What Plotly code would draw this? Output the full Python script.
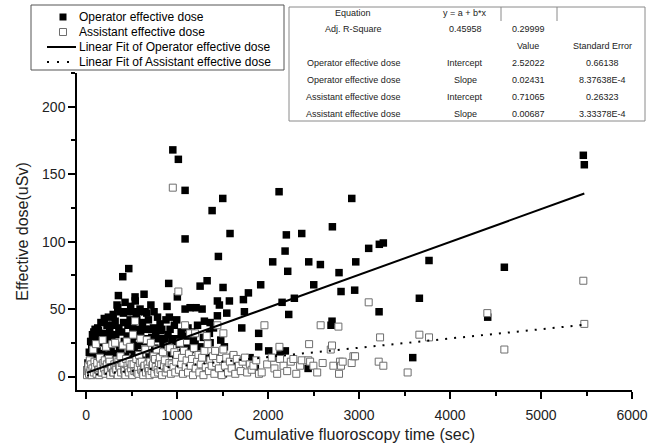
import plotly.graph_objects as go

# ---------------- data ----------------
op_x = [12, 20, 28, 35, 42, 50, 55, 62, 70, 78, 85, 92, 99, 105, 112, 120, 128, 135, 142, 150,
        156, 163, 170, 178, 186, 192, 200, 208, 215, 222, 230, 238, 245, 252, 260, 268, 275, 282, 290, 298,
        305, 312, 319, 326, 333, 340, 348, 355, 360, 368, 374, 382, 390, 398, 403, 410, 412, 420, 428, 436,
        447, 452, 460, 469, 475, 484, 490, 498, 506, 514, 520, 528, 538, 540, 545, 552, 557, 565, 575, 580,
        588, 593, 600, 610, 620, 630, 637, 645, 648, 655, 667, 672, 685, 692, 703, 712, 722, 730, 740, 747,
        755, 765, 777, 785, 795, 805, 813, 820, 832, 845, 855, 868, 878, 887, 890, 900, 908, 915, 923, 935,
        945, 953, 959, 970, 985, 996, 1003, 1014, 1025, 1033, 1045, 1060, 1070, 1088, 1088, 1088, 1100, 1107, 1120, 1130,
        1143, 1143, 1160, 1179, 1180, 1198, 1209, 1225, 1240, 1253, 1253, 1275, 1289, 1300, 1326, 1330, 1355, 1363, 1363, 1385,
        1400, 1420, 1443, 1443, 1454, 1465, 1480, 1502, 1505, 1509, 1520, 1546, 1575, 1582, 1601, 1619, 1650, 1711, 1729, 1740,
        1784, 1802, 1860, 1897, 1897, 1919, 2007, 2051, 2077, 2121, 2132, 2154, 2187, 2190, 2201, 2216, 2227, 2289, 2370, 2440,
        2447, 2502, 2575, 2692, 2703, 2707, 2780, 2802, 2920, 2952, 2964, 3106, 3220, 3223, 3267, 3590, 3663, 3769, 4414, 4597,
        5465, 5476]
op_y = [5, 10, 4, 18, 12, 26, 8, 21, 31, 15, 33, 24, 35, 11, 28, 19, 36, 34, 25, 14,
        29, 40, 17, 32, 13, 27, 43, 9, 22, 30, 38, 16, 44, 27, 33, 12, 21, 29, 38, 46,
        25, 17, 41, 31, 12, 53, 51, 60, 36, 22, 48, 18, 33, 10, 74, 47, 40, 26, 55, 15,
        48, 30, 38, 80, 20, 42, 52, 13, 27, 36, 48, 18, 59, 56, 30, 45, 42, 23, 48, 35,
        17, 50, 31, 12, 40, 26, 61, 20, 48, 35, 47, 28, 42, 16, 35, 53, 29, 13, 36, 48,
        21, 31, 19, 44, 28, 15, 39, 34, 35, 24, 10, 28, 42, 21, 52, 31, 69, 44, 35, 17,
        26, 168, 28, 38, 12, 42, 59, 161, 24, 28, 33, 18, 14, 138, 102, 50, 30, 21, 36, 11,
        51, 20, 33, 27, 22, 24, 51, 38, 16, 67, 22, 50, 29, 41, 14, 71, 32, 40, 25, 123,
        36, 18, 56, 45, 89, 53, 27, 132, 66, 2, 22, 47, 56, 106, 14, 15, 9, 36, 57, 48,
        62, 14, 6, 32, 22, 68, 19, 85, 14, 137, 16, 55, 93, 19, 105, 78, 46, 58, 106, 6,
        85, 68, 83, 38, 41, 111, 77, 63, 132, 64, 85, 95, 48, 98, 99, 14, 58, 86, 44, 81,
        164, 157]

as_x = [10, 18, 25, 32, 40, 48, 55, 62, 70, 78, 85, 92, 100, 108, 115, 122, 130, 138, 145, 152,
        160, 168, 175, 182, 190, 198, 205, 212, 220, 228, 235, 242, 250, 258, 265, 272, 280, 288, 295, 302,
        310, 319, 325, 332, 340, 348, 355, 362, 370, 378, 385, 392, 403, 410, 418, 425, 432, 440, 448, 455,
        462, 470, 478, 485, 492, 500, 508, 515, 522, 530, 538, 545, 552, 560, 568, 575, 582, 590, 598, 605,
        612, 620, 628, 635, 642, 650, 658, 667, 675, 682, 690, 698, 705, 712, 720, 728, 735, 742, 750, 758,
        765, 777, 785, 792, 800, 810, 818, 825, 835, 845, 855, 865, 875, 885, 895, 905, 915, 923, 932, 940,
        953, 960, 970, 980, 990, 1000, 1014, 1020, 1033, 1045, 1055, 1065, 1075, 1088, 1095, 1105, 1120, 1130, 1143, 1150,
        1165, 1175, 1185, 1198, 1205, 1220, 1235, 1245, 1260, 1275, 1290, 1300, 1315, 1326, 1337, 1350, 1365, 1380, 1395, 1410,
        1418, 1430, 1443, 1460, 1475, 1490, 1509, 1509, 1525, 1540, 1560, 1580, 1600, 1620, 1640, 1656, 1680, 1700, 1720, 1747,
        1770, 1800, 1820, 1839, 1870, 1900, 1930, 1960, 1990, 2040, 2070, 2100, 2125, 2132, 2170, 2210, 2250, 2278, 2310, 2352,
        2370, 2443, 2451, 2462, 2498, 2540, 2578, 2600, 2689, 2703, 2718, 2773, 2780, 2791, 2802, 2820, 2919, 2938, 2956, 3106,
        3216, 3231, 3267, 3534, 3663, 3769, 4410, 4597, 5465, 5476]
as_y = [1, 4, 8, 2, 12, 5, 9, 1, 6, 20, 3, 11, 7, 24, 2, 10, 5, 5, 1, 14,
        8, 3, 3, 27, 10, 6, 12, 2, 22, 9, 4, 4, 13, 11, 1, 7, 7, 24, 3, 3,
        9, 25, 6, 5, 12, 1, 11, 8, 7, 15, 3, 10, 23, 10, 5, 4, 1, 13, 26, 8,
        5, 3, 11, 22, 6, 9, 1, 31, 9, 4, 41, 4, 13, 3, 7, 2, 16, 10, 28, 5,
        11, 3, 1, 7, 8, 20, 3, 27, 9, 6, 4, 1, 11, 25, 4, 8, 9, 15, 2, 13,
        7, 20, 5, 3, 10, 14, 5, 9, 1, 18, 8, 12, 3, 6, 6, 22, 10, 21, 2, 9,
        140, 7, 18, 3, 11, 16, 63, 5, 25, 9, 14, 2, 19, 38, 7, 12, 3, 17, 32, 8,
        13, 1, 21, 32, 6, 11, 16, 3, 9, 14, 1, 19, 7, 30, 24, 4, 12, 8, 15, 2,
        19, 10, 38, 6, 13, 1, 32, 20, 8, 14, 3, 11, 6, 16, 2, 13, 8, 4, 11, 14,
        3, 9, 5, 8, 12, 2, 3, 38, 9, 14, 6, 2, 22, 13, 8, 4, 11, 13, 2, 8,
        12, 12, 24, 11, 8, 3, 38, 10, 20, 23, 8, 37, 2, 11, 8, 11, 10, 15, 15, 55,
        11, 29, 8, 3, 31, 29, 47, 20, 71, 39]

# Linear fit results (from the inset table)
fit_intercept = [2.52022, 0.71065]
fit_slope = [0.02431, 0.00687]

# Inset table text
table_rows = [
    ["Equation", "y = a + b*x", "", ""],
    ["Adj. R-Square", "0.45958", "0.29999", ""],
    ["", "", "Value", "Standard Error"],
    ["Operator effective dose", "Intercept", "2.52022", "0.66138"],
    ["Operator effective dose", "Slope", "0.02431", "8.37638E-4"],
    ["Assistant effective dose", "Intercept", "0.71065", "0.26323"],
    ["Assistant effective dose", "Slope", "0.00687", "3.33378E-4"],
]

legend_labels = ["Operator effective dose", "Assistant effective dose",
                 "Linear Fit of Operator effective dose", "Linear Fit of Assistant effective dose"]

x_title = "Cumulative fluoroscopy time (sec)"
y_title = "Effective dose(uSv)"

# ---------------- layout geometry ----------------
W, H = 648, 443
ML, MR, MT, MB = 77, 16, 73, 53
PW, PH = W - ML - MR, H - MT - MB


def fx(px):
    return (px - ML) / PW


def fy(py):
    return (MT + PH - py) / PH


FONT = "Liberation Sans, Arial, sans-serif"

fig = go.Figure()

fig.add_trace(go.Scatter(x=op_x, y=op_y, mode="markers", name=legend_labels[0],
                         marker=dict(symbol="square", size=7.5, color="black", line=dict(width=0))))
fig.add_trace(go.Scatter(x=as_x, y=as_y, mode="markers", name=legend_labels[1],
                         marker=dict(symbol="square", size=7, color="white",
                                     line=dict(width=1, color="#6e6e6e"))))

xmin = min(min(op_x), min(as_x))
xmax = max(max(op_x), max(as_x))
dashes = ["solid", "2px,7px"]
for i in range(2):
    xs = [xmin, xmax]
    ys = [fit_intercept[i] + fit_slope[i] * v for v in xs]
    fig.add_trace(go.Scatter(x=xs, y=ys, mode="lines", name=legend_labels[2 + i],
                             line=dict(color="black", width=2, dash=dashes[i])))

shapes = []
annotations = []

# ---- manual legend ----
lg_left, lg_top, lg_right, lg_bottom = 31, 5, 284, 70
shapes.append(dict(type="rect", xref="paper", yref="paper",
                   x0=fx(lg_left), x1=fx(lg_right), y0=fy(lg_bottom), y1=fy(lg_top),
                   line=dict(color="#555555", width=1), fillcolor="white", layer="above"))
row_y = [17, 32, 47, 62]
shapes.append(dict(type="rect", xref="paper", yref="paper",
                   x0=fx(59.5), x1=fx(66.5), y0=fy(row_y[0] + 3.5), y1=fy(row_y[0] - 3.5),
                   line=dict(width=0), fillcolor="black", layer="above"))
shapes.append(dict(type="rect", xref="paper", yref="paper",
                   x0=fx(59.5), x1=fx(66.5), y0=fy(row_y[1] + 3.5), y1=fy(row_y[1] - 3.5),
                   line=dict(width=1, color="#6e6e6e"), fillcolor="white", layer="above"))
shapes.append(dict(type="line", xref="paper", yref="paper",
                   x0=fx(47), x1=fx(76), y0=fy(row_y[2]), y1=fy(row_y[2]),
                   line=dict(width=2, color="black"), layer="above"))
shapes.append(dict(type="line", xref="paper", yref="paper",
                   x0=fx(47), x1=fx(76), y0=fy(row_y[3]), y1=fy(row_y[3]),
                   line=dict(width=2, color="black", dash="2px,8px"), layer="above"))
for lab, yy in zip(legend_labels, row_y):
    annotations.append(dict(text=lab, xref="paper", yref="paper", x=fx(77), y=fy(yy),
                            xanchor="left", yanchor="middle", showarrow=False,
                            font=dict(family=FONT, size=12, color="black")))

# ---- inset table ----
tb_left, tb_top, tb_right, tb_bottom = 289, 7, 645, 121
shapes.append(dict(type="rect", xref="paper", yref="paper",
                   x0=fx(tb_left), x1=fx(tb_right), y0=fy(tb_bottom), y1=fy(tb_top),
                   line=dict(color="#8a8a8a", width=1), fillcolor="white", layer="above"))
for vx in (501, 557):
    shapes.append(dict(type="line", xref="paper", yref="paper",
                       x0=fx(vx), x1=fx(vx), y0=fy(21), y1=fy(tb_top),
                       line=dict(color="#8a8a8a", width=1), layer="above"))
col_x = [353, 465, 528, 602]
row_cy = [13, 29, 46, 63, 80, 97, 114]
for r, row in enumerate(table_rows):
    for c, txt in enumerate(row):
        if txt:
            annotations.append(dict(text=txt, xref="paper", yref="paper", x=fx(col_x[c]), y=fy(row_cy[r]),
                                    xanchor="center", yanchor="middle", showarrow=False,
                                    font=dict(family=FONT, size=9, color="#222222")))

fig.update_layout(
    width=W, height=H,
    margin=dict(l=ML, r=MR, t=MT, b=MB, pad=0),
    paper_bgcolor="white", plot_bgcolor="white",
    showlegend=False,
    shapes=shapes, annotations=annotations,
    font=dict(family=FONT, color="black"),
)
fig.update_xaxes(range=[-100, 6000], tick0=0, dtick=1000, ticks="outside", ticklen=7, tickwidth=1.5,
                 tickcolor="black", showline=True, linecolor="black", linewidth=1.5, showgrid=False,
                 zeroline=False, tickfont=dict(family=FONT, size=14, color="#222222"),
                 ticklabelstandoff=4, automargin=False,
                 minor=dict(dtick=500, ticks="outside", ticklen=4, tickwidth=1.5, tickcolor="black"),
                 title=dict(text=x_title, font=dict(family=FONT, size=16, color="#222222"), standoff=7))
fig.update_yaxes(range=[-10, 225], tick0=0, dtick=50, ticks="outside", ticklen=7, tickwidth=1.5,
                 tickcolor="black", showline=True, linecolor="black", linewidth=1.5, showgrid=False,
                 zeroline=False, tickfont=dict(family=FONT, size=14, color="#222222"),
                 automargin=False,
                 minor=dict(dtick=25, ticks="outside", ticklen=4, tickwidth=1.5, tickcolor="black"),
                 title=dict(text=y_title, font=dict(family=FONT, size=16, color="#222222"), standoff=9))

fig.write_html("out.html")
